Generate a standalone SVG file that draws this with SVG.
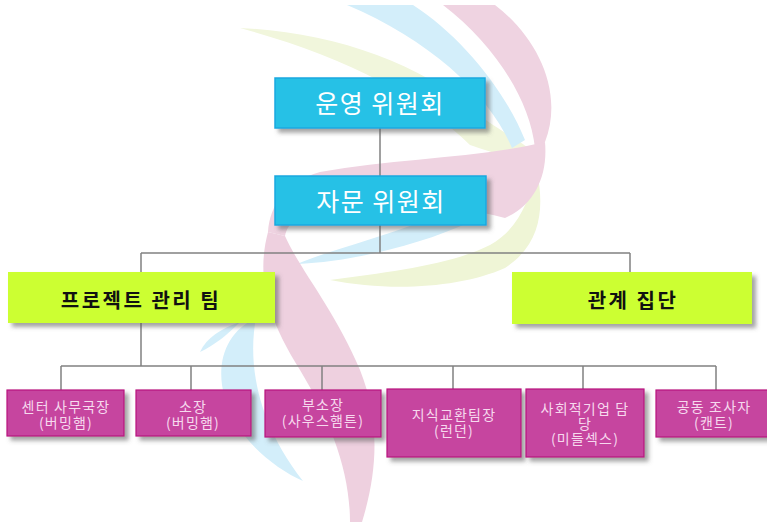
<svg xmlns="http://www.w3.org/2000/svg" width="767" height="525" viewBox="0 0 767 525">
  <defs>
    <filter id="shadow" x="-10%" y="-20%" width="125%" height="150%">
      <feDropShadow dx="4" dy="4" stdDeviation="2.2" flood-color="#5a5a5a" flood-opacity="0.55"/>
    </filter>
    <style>
      .committee { fill: #28C1E6; stroke: #18A8E0; stroke-width: 1.5; filter: url(#shadow); }
      .group { fill: #CCFF33; filter: url(#shadow); }
      .member { fill: #C6459F; stroke: #B8127F; stroke-width: 1.2; filter: url(#shadow); }
      .t-committee { font-family: "Noto Sans CJK KR", "Noto Sans", sans-serif; font-size: 25px; fill: #ffffff; text-anchor: middle; letter-spacing: 1.5px; }
      .t-group { font-family: "Noto Sans CJK KR", "Noto Sans", sans-serif; font-size: 20px; font-weight: bold; fill: #111111; text-anchor: middle; letter-spacing: 2.5px; }
      .t-member { font-family: "Noto Sans CJK KR", "Noto Sans", sans-serif; font-size: 14px; fill: #F6D9EE; text-anchor: middle; letter-spacing: 1.2px; }
      .link { stroke: #808080; stroke-width: 1.5; fill: none; }
    </style>
  </defs>

  <rect width="767" height="525" fill="#ffffff"/>

  <!-- decorative ribbons behind the chart -->
  <g id="backdrop">
    <!-- yellow leaf, upper -->
    <path d="M240,28 C330,32 420,62 475,112 C505,135 530,145 538,158 C510,160 485,150 470,145 C420,95 340,55 240,28 Z" fill="#F1F6DC"/>
    <!-- yellow band, lower right -->
    <path d="M537,172 C545,210 540,245 505,268 C460,288 390,292 330,280 C390,272 450,265 490,245 C520,228 528,200 537,172 Z" fill="#EFF5D6"/>
    <!-- blue band, upper -->
    <path d="M347,5 L413,5 C460,35 505,90 525,140 L512,148 C490,95 430,40 347,5 Z" fill="#D3EEFA"/>
    <!-- blue band under the second committee -->
    <path d="M515,150 C520,185 505,205 470,222 C420,245 350,262 297,264 C330,250 380,238 420,222 C470,205 500,185 515,150 Z" fill="#D3EEFA"/>
    <!-- blue ribbon, lower left -->
    <path d="M256,318 C248,360 255,420 303,481 C268,465 228,430 222,385 C218,355 230,330 256,318 Z" fill="#D3EEFA"/>
    <path d="M200,352 C206,338 222,328 240,322 C228,334 215,345 200,352 Z" fill="#D3EEFA"/>
    <!-- pink band, upper arc -->
    <path d="M443,5 L495,5 C535,35 565,90 545,142 L535,148 C530,100 495,45 443,5 Z" fill="#EFD3E1"/>
    <!-- pink band sweeping left behind the committees -->
    <path d="M545,142 C548,175 535,205 505,218 C440,200 360,205 300,215 C290,222 286,230 285,236 L268,232 C270,205 285,182 320,172 C400,158 480,158 545,142 Z" fill="#EFD3E1"/>
    <!-- pink ribbon, lower -->
    <path d="M268,232 C258,270 262,310 300,370 C330,420 350,470 350,522 L362,522 C378,470 380,420 360,370 C335,310 300,270 285,236 Z" fill="#EED0DF"/>
  </g>

  <!-- connectors -->
  <g id="connectors">
    <path class="link" d="M380,128 V176"/>
    <path class="link" d="M380,225 V253"/>
    <path class="link" d="M141,253 H630"/>
    <path class="link" d="M141,253 V272"/>
    <path class="link" d="M630,253 V272"/>
    <path class="link" d="M141,323 V366"/>
    <path class="link" d="M61,366 H716"/>
    <path class="link" d="M61,366 V390"/>
    <path class="link" d="M191,366 V390"/>
    <path class="link" d="M322,366 V390"/>
    <path class="link" d="M453,366 V389"/>
    <path class="link" d="M583,366 V389"/>
    <path class="link" d="M716,366 V390"/>
  </g>

  <g id="steering-committee">
    <rect class="committee" x="275" y="78" width="210" height="50"/>
    <text class="t-committee" x="380" y="113">운영 위원회</text>
  </g>

  <g id="advisory-committee">
    <rect class="committee" x="275" y="176" width="211" height="49"/>
    <text class="t-committee" x="381" y="211">자문 위원회</text>
  </g>

  <g id="project-team">
    <rect class="group" x="8" y="272" width="267" height="51"/>
    <text class="t-group" x="141" y="308">프로젝트 관리 팀</text>
  </g>

  <g id="stakeholders">
    <rect class="group" x="512" y="272" width="240" height="52"/>
    <text class="t-group" x="633" y="308">관계 집단</text>
  </g>

  <g id="center-director">
    <rect class="member" x="7" y="390" width="117" height="46"/>
    <text class="t-member" x="66" y="412">센터 사무국장</text>
    <text class="t-member" x="66" y="428">(버밍햄)</text>
  </g>

  <g id="director">
    <rect class="member" x="136" y="390" width="115" height="46"/>
    <text class="t-member" x="193" y="412">소장</text>
    <text class="t-member" x="193" y="428">(버밍햄)</text>
  </g>

  <g id="deputy-director">
    <rect class="member" x="265" y="390" width="116" height="47"/>
    <text class="t-member" x="323" y="410">부소장</text>
    <text class="t-member" x="323" y="426">(사우스햄튼)</text>
  </g>

  <g id="knowledge-exchange-lead">
    <rect class="member" x="387" y="389" width="134" height="68"/>
    <text class="t-member" x="454" y="420">지식교환팀장</text>
    <text class="t-member" x="454" y="436">(런던)</text>
  </g>

  <g id="social-enterprise-lead">
    <rect class="member" x="526" y="389" width="118" height="68"/>
    <text class="t-member" x="585" y="414">사회적기업 담</text>
    <text class="t-member" x="585" y="429">당</text>
    <text class="t-member" x="585" y="444">(미들섹스)</text>
  </g>

  <g id="co-investigator">
    <rect class="member" x="656" y="390" width="116" height="47"/>
    <text class="t-member" x="714" y="412">공동 조사자</text>
    <text class="t-member" x="714" y="428">(캔트)</text>
  </g>
</svg>
